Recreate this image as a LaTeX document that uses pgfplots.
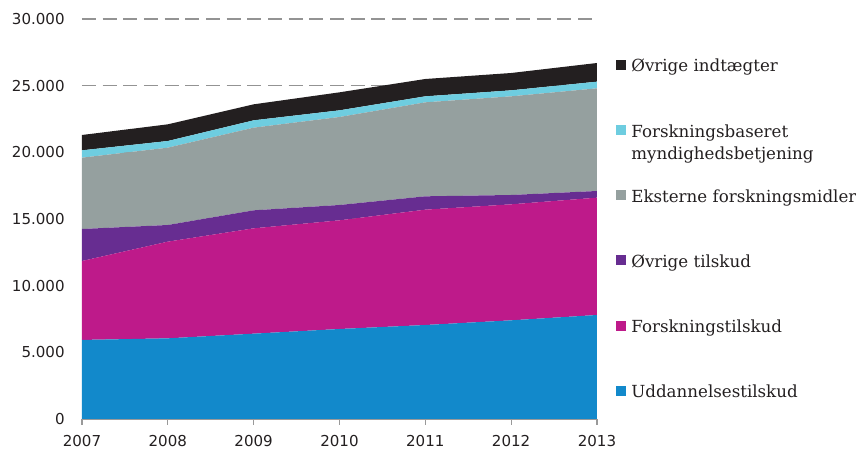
\documentclass[border=0pt]{standalone}
\usepackage{pgfplots}
\pgfplotsset{compat=1.18}
\usepackage{fontspec}
\setmainfont{DejaVu Serif}
\newfontfamily\ticksfont{DejaVu Sans}
\definecolor{cBlue}{RGB}{18,137,203}
\definecolor{cMag}{RGB}{190,26,138}
\definecolor{cPur}{RGB}{103,45,145}
\definecolor{cGrey}{RGB}{149,160,159}
\definecolor{cCyan}{RGB}{110,205,224}
\definecolor{cBlack}{RGB}{35,31,32}
\definecolor{cText}{RGB}{35,31,32}
\begin{document}
\begin{tikzpicture}
\useasboundingbox (-61.5pt,-22.5pt) rectangle (580.5pt,314.25pt);
\begin{axis}[
  at={(0,0)}, anchor=south west,
  scale only axis, width=386.25pt, height=300pt,
  xmin=2007, xmax=2013, ymin=0, ymax=30000,
  xtick={2007,2008,...,2013}, ytick={0,5000,...,30000},
  stack plots=y,
  axis lines*=left,
  y axis line style={draw=none},
  x axis line style={color=gray!80, line width=0.8pt},
  ytick style={draw=none},
  xtick style={color=gray!80, line width=0.8pt},
  tick align=outside, major tick length=4.5pt,
  ymajorgrids, grid style={dash pattern=on 10.5pt off 5pt, color=gray!85, line width=0.9pt},
  scaled y ticks=false,
  yticklabel style={/pgf/number format/1000 sep={.}, xshift=-5pt},
  xticklabel style={/pgf/number format/1000 sep={}, yshift=-4.5pt},
  ticklabel style={font=\ticksfont\fontsize{11.3}{13}\selectfont, text=cText},
  /pgf/number format/assume math mode=true,
  reverse legend,
  legend cell align=left,
  legend style={at={(1.028,0.92)}, anchor=north west, draw=none, fill=none,
    font=\fontsize{12.5}{16.5}\selectfont, text=cText, row sep=31.75pt,
    /tikz/every odd column/.append style={column sep=2.25pt}},
  legend image code/.code={\fill[#1] (0pt,-3.75pt) rectangle (7.5pt,3.75pt);},
]
\addplot[fill=cBlue, draw=none] coordinates {(2007,5930) (2008,6050) (2009,6400) (2010,6750) (2011,7050) (2012,7400) (2013,7800)} \closedcycle;
\addlegendentry{\strut Uddannelsestilskud}
\addplot[fill=cMag, draw=none] coordinates {(2007,5920) (2008,7250) (2009,7900) (2010,8150) (2011,8650) (2012,8700) (2013,8800)} \closedcycle;
\addlegendentry{\strut Forskningstilskud}
\addplot[fill=cPur, draw=none] coordinates {(2007,2400) (2008,1250) (2009,1350) (2010,1150) (2011,1000) (2012,700) (2013,500)} \closedcycle;
\addlegendentry{\strut Øvrige tilskud}
\addplot[fill=cGrey, draw=none] coordinates {(2007,5350) (2008,5800) (2009,6200) (2010,6600) (2011,7050) (2012,7400) (2013,7700)} \closedcycle;
\addlegendentry{\strut Eksterne forskningsmidler}
\addplot[fill=cCyan, draw=none] coordinates {(2007,550) (2008,500) (2009,550) (2010,500) (2011,450) (2012,450) (2013,500)} \closedcycle;
\addlegendentry{\strut\raisebox{0pt}[\height][0pt]{\vtop{\hbox{Forskningsbaseret}\hbox{myndighedsbetjening}}}}
\addplot[fill=cBlack, draw=none] coordinates {(2007,1150) (2008,1250) (2009,1200) (2010,1350) (2011,1300) (2012,1300) (2013,1400)} \closedcycle;
\addlegendentry{\strut Øvrige indtægter}
\end{axis}
\end{tikzpicture}
\end{document}
